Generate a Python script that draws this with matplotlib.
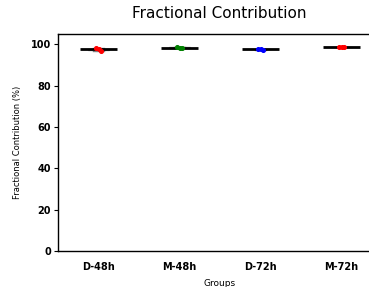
import matplotlib
matplotlib.use("Agg")
import matplotlib.pyplot as plt
import numpy as np

groups = ["D-48h", "M-48h", "D-72h", "M-72h"]
values_d48 = [98.3, 97.6, 96.9]
values_m48 = [98.8, 98.0, 98.4]
values_d72 = [97.6, 97.8, 97.4]
values_m72 = [98.9, 98.6, 98.7]
point_colors = ["red", "green", "blue", "red"]
jitter = [-0.03, 0.0, 0.03]

data = [values_d48, values_m48, values_d72, values_m72]

fig = plt.figure(figsize=(3.69, 2.87), dpi=100)
ax = fig.add_axes([58/369, 1-251/287, (382-58)/369, (251-34)/287])

pos = np.arange(len(groups))
bp = ax.boxplot(data, positions=pos, widths=0.25, patch_artist=True,
                showfliers=False, medianprops=dict(color="black", linewidth=0),
                boxprops=dict(facecolor="gray", edgecolor="gray", alpha=0.7),
                whiskerprops=dict(color="gray"), capprops=dict(color="gray"))
for i, d in enumerate(data):
    m = np.median(d)
    ax.hlines(m, i - 0.23, i + 0.23, color="black", linewidth=2.0, zorder=3)
    ax.scatter([i + j for j in jitter[:len(d)]], d, s=7, color=point_colors[i], zorder=4)

ax.set_xlim(-0.5, 3.5)
ax.set_ylim(0, 105)
ax.set_yticks([0, 20, 40, 60, 80, 100])
ax.set_xticks(pos)
ax.set_xticklabels(groups, fontsize=7, fontweight="bold")
for lab in ax.get_yticklabels():
    lab.set_fontsize(7)
    lab.set_fontweight("bold")
ax.tick_params(axis="x", length=0, pad=8)
ax.tick_params(axis="y", length=3, pad=2)
ax.set_xlabel("Groups", fontsize=6.5, labelpad=5)
ax.set_ylabel("Fractional Contribution (%)", fontsize=6, labelpad=6)
fig.text(219/369, 1-14/287, "Fractional Contribution", fontsize=11, ha="center", va="center")
ax.spines["right"].set_visible(False)
for s in ax.spines.values():
    s.set_linewidth(1)

fig.savefig("out.png", dpi=100)
